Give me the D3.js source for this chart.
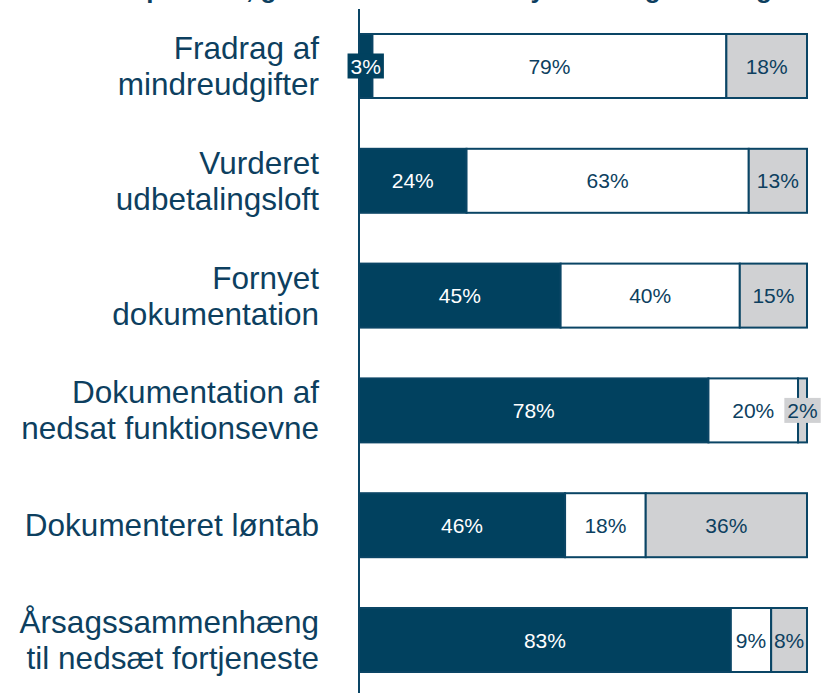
<!DOCTYPE html>
<html>
<head>
<meta charset="utf-8">
<script src="https://cdn.jsdelivr.net/npm/d3@7"></script>
<style>
  html, body { margin: 0; padding: 0; background: #fff; }
  svg { display: block; }
</style>
</head>
<body>
<svg id="chart" width="821" height="693"></svg>
<script>
// ---- data ----
const titleText = "Udfald pr. tema, genvurderet af ankestyrelsen og ændring";
const categories = [
  ["Fradrag af", "mindreudgifter"],
  ["Vurderet", "udbetalingsloft"],
  ["Fornyet", "dokumentation"],
  ["Dokumentation af", "nedsat funktionsevne"],
  ["Dokumenteret løntab"],
  ["Årsagssammenhæng", "til nedsæt fortjeneste"]
];
const seriesNames = ["A", "B", "C"];
const seriesA = [3, 24, 45, 78, 46, 83];
const seriesB = [79, 63, 40, 20, 18, 9];
const seriesC = [18, 13, 15, 2, 36, 8];
const fills = ["#01415f", "#ffffff", "#d0d1d3"];
const textColors = ["#ffffff", "#0d3f5f", "#0d3f5f"];

// ---- chart ----
const W = 821, H = 693;
const svg = d3.select("#chart");
const catKeys = categories.map((c, i) => "c" + i);
const y = d3.scaleBand().domain(catKeys).range([8.6, 697.4])
  .paddingInner(0.4425).paddingOuter(0.2212);
const x = d3.scaleLinear().domain([0, 100]).range([359, 807]);

const stroke = "#0a4565";
const labelColor = "#0d3f5f";
const fontFam = "Liberation Sans, Arial, Helvetica, sans-serif";

// title (cut off at top, as in the reference)
svg.append("text")
  .attr("x", 415).attr("y", -2)
  .attr("text-anchor", "middle")
  .attr("font-family", fontFam)
  .attr("font-weight", "bold")
  .attr("font-size", 26)
  .attr("fill", labelColor)
  .text(titleText);

const rows = categories.map((c, i) => {
  const vals = [seriesA[i], seriesB[i], seriesC[i]];
  let acc = 0;
  return vals.map((v, k) => {
    const seg = { key: catKeys[i], k, v, x0: acc, x1: acc + v };
    acc += v;
    return seg;
  });
});

const g = svg.append("g");
rows.forEach(row => {
  row.forEach(seg => {
    g.append("rect")
      .attr("x", x(seg.x0))
      .attr("y", y(seg.key))
      .attr("width", x(seg.x1) - x(seg.x0))
      .attr("height", y.bandwidth())
      .attr("fill", fills[seg.k])
      .attr("stroke", stroke)
      .attr("stroke-width", 2);
  });
});

// axis line
svg.append("line")
  .attr("x1", x(0)).attr("x2", x(0))
  .attr("y1", 9).attr("y2", H)
  .attr("stroke", stroke).attr("stroke-width", 2);

// value labels
const lgAll = svg.append("g");
rows.forEach(row => {
  row.forEach(seg => {
    const cx = (x(seg.x0) + x(seg.x1)) / 2;
    const cy = y(seg.key) + y.bandwidth() / 2;
    const lg = lgAll.append("g");
    const t = lg.append("text")
      .attr("x", cx).attr("y", cy)
      .attr("dy", "0.36em")
      .attr("text-anchor", "middle")
      .attr("font-family", fontFam)
      .attr("font-size", 21)
      .attr("fill", textColors[seg.k])
      .text(seg.v + "%");
    const bb = t.node().getBBox();
    const segW = x(seg.x1) - x(seg.x0);
    if (bb.width + 4 > segW) {
      lg.insert("rect", "text")
        .attr("x", bb.x - 3).attr("y", cy - 12.5)
        .attr("width", bb.width + 6).attr("height", 25)
        .attr("fill", fills[seg.k]);
    }
  });
});

// category labels
categories.forEach((lines, i) => {
  const cy = y(catKeys[i]) + y.bandwidth() / 2;
  const n = lines.length;
  const lh = 36;
  const t = svg.append("text")
    .attr("text-anchor", "end")
    .attr("font-family", fontFam)
    .attr("font-size", 31.5)
    .attr("fill", labelColor);
  lines.forEach((ln, j) => {
    t.append("tspan")
      .attr("x", 319)
      .attr("y", cy - (n - 1) * lh / 2 + j * lh + 11)
      .text(ln);
  });
});
</script>
</body>
</html>
